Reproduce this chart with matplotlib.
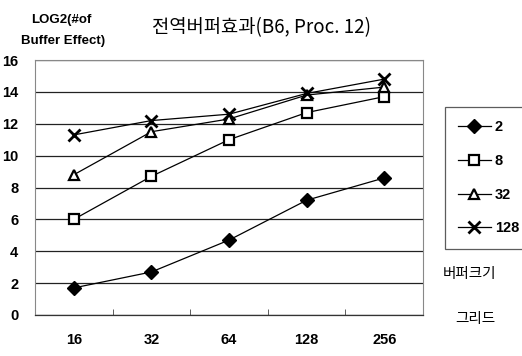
import matplotlib
matplotlib.use("Agg")
import matplotlib.pyplot as plt

plt.rcParams['font.family'] = ['Liberation Sans', 'Noto Sans CJK KR', 'DejaVu Sans']

categories = ["16", "32", "64", "128", "256"]
series_names = ["2", "8", "32", "128"]
s2 = [1.7, 2.7, 4.7, 7.2, 8.6]
s8 = [6.0, 8.7, 11.0, 12.7, 13.7]
s32 = [8.8, 11.5, 12.3, 13.8, 14.3]
s128 = [11.3, 12.2, 12.6, 13.9, 14.8]
yticks = [0, 2, 4, 6, 8, 10, 12, 14, 16]

fig = plt.figure(figsize=(5.22, 3.56), dpi=100)
ax = fig.add_axes([35/522, 1-315/356, (423-35)/522, (315-60)/356])

x = list(range(len(categories)))
styles = [
    dict(marker='D', markersize=7, markerfacecolor='black', markeredgecolor='black'),
    dict(marker='s', markersize=7, markerfacecolor='white', markeredgecolor='black', markeredgewidth=1.6),
    dict(marker='^', markersize=7, markerfacecolor='white', markeredgecolor='black', markeredgewidth=1.6),
    dict(marker='x', markersize=8, markeredgecolor='black', markeredgewidth=2.0),
]
handles = []
for vals, name, st in zip([s2, s8, s32, s128], series_names, styles):
    h, = ax.plot(x, vals, color='black', linewidth=0.9, label=name, **st, zorder=3)
    handles.append(h)

ax.set_xlim(-0.5, len(categories) - 0.5)
ax.set_ylim(0, 16)
ax.set_yticks(yticks)
ax.set_yticklabels([str(v) for v in yticks], fontsize=10.5, fontweight='bold')
ax.set_xticks(x)
ax.set_xticklabels(categories, fontsize=10.5, fontweight='bold')
ax.tick_params(axis='x', length=0, pad=13)
ax.tick_params(axis='y', length=0, pad=12)
ax.set_xticks([i + 0.5 for i in x[:-1]], minor=True)
ax.tick_params(axis='x', which='minor', direction='in', length=4, color='#444444')
ax.grid(axis='y', color='#222222', linewidth=0.9)
ax.set_axisbelow(True)
for side in ['left', 'top', 'right']:
    ax.spines[side].set_color('#888888')
    ax.spines[side].set_linewidth(0.8)
ax.spines['bottom'].set_color('#333333')
ax.spines['bottom'].set_linewidth(0.9)

leg = fig.legend(handles=handles, labels=series_names, loc='upper left',
                 bbox_to_anchor=(438/522, 1-100/356), frameon=True, fancybox=False,
                 edgecolor='#333333', fontsize=10.5, handlelength=2.2,
                 labelspacing=1.35, borderpad=0.9, handletextpad=0.3)
leg.get_frame().set_linewidth(0.9)
for t in leg.get_texts():
    t.set_fontweight('bold')

fig.text(262/522, 1-28/356, "전역버퍼효과(B6, Proc. 12)", ha='center', va='center',
         fontsize=13.5, family=['Noto Sans CJK KR', 'DejaVu Sans'])
fig.text(61/522, 1-20/356, "LOG2(#of", ha='center', va='center', fontsize=9.5, fontweight='bold')
fig.text(63/522, 1-41/356, "Buffer Effect)", ha='center', va='center', fontsize=9.5, fontweight='bold')
fig.text(469/522, 1-274/356, "버퍼크기", ha='center', va='center', fontsize=10.5,
         family=['Noto Sans CJK KR', 'DejaVu Sans'])
fig.text(475/522, 1-319/356, "그리드", ha='center', va='center', fontsize=10.5,
         family=['Noto Sans CJK KR', 'DejaVu Sans'])

fig.savefig("out.png", dpi=100)
